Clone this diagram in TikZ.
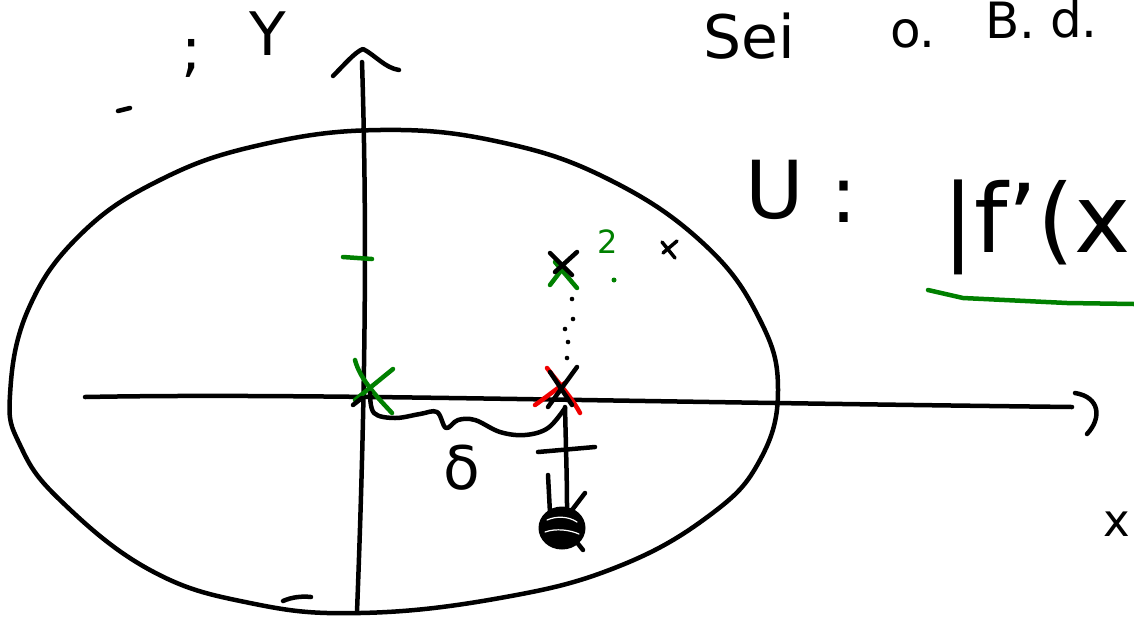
\documentclass[tikz,border=0pt]{standalone}
\usepackage{fontspec}
\setmainfont{DejaVu Sans}
\definecolor{pgreen}{RGB}{0,128,0}
\definecolor{pred}{RGB}{240,0,0}
\begin{document}
\begin{tikzpicture}[x=1pt,y=-1pt,line cap=round,line join=round,
  ink/.style={line width=4.5pt,black},
  gink/.style={line width=4.5pt,pgreen},
  rink/.style={line width=4.5pt,pred},
  hand/.style={inner sep=0pt,outer sep=0pt},
  fs/.style={font=\fontsize{#1}{#1}\selectfont}]
\useasboundingbox (0,0) rectangle (1134,619);
\clip (0,0) rectangle (1134,619);
% ellipse (region)
\draw[ink] plot[smooth cycle,tension=0.7] coordinates {
  (10,395) (28,310) (80,235) (160,180) (260,145) (380,130) (500,142) (610,180)
  (705,245) (760,320) (778,390) (760,460) (710,515) (617,567)
  (500,598) (360,613) (250,603) (150,570) (60,500) (20,445)};
% axes
\draw[ink] (85,397) .. controls (300,393) and (560,401) .. (1072,407);
\draw[ink] (1075,393) .. controls (1100,397) and (1102,418) .. (1087,434);
\draw[ink] (362,62) .. controls (368,250) and (364,430) .. (357,612);
\draw[ink] (333,76) .. controls (345,64) and (355,52) .. (363,49) .. controls (375,55) and (385,68) .. (399,70);
% axis labels and scraps
\node[hand,fs=60] (ylab) at (268,34) {Y};
\node[hand,fs=60] (semi) at (192,58) {;};
\draw[ink] (118,111) -- (130,108);
\draw[ink] (283,601) .. controls (292,597) and (302,596) .. (311,597);
\node[hand,fs=45] (xlab) at (1117,524) {x};
% title text
\node[hand,fs=60,anchor=base west] (sei) at (703,58) {Sei};
\node[hand,fs=50,anchor=base west] (o) at (890,47) {o.};
\node[hand,fs=50,anchor=base west] (B) at (985,38) {B.};
\node[hand,fs=50,anchor=base west] (d) at (1050,37) {d.};
\node[hand,fs=80,anchor=base west] (U) at (745,218) {U};
\node[hand,fs=80,anchor=base west] (colon) at (830,222) {:};
\node[hand,fs=95,anchor=base west] (fpx) at (942,252) {|f'(x};
\draw[gink] (928,290) -- (963,298) -- (1067,303) -- (1134,304);
% green tick on y axis
\draw[gink] (343,257) -- (372,259);
% origin cross
\draw[gink] (355,360) .. controls (360,380) and (380,400) .. (392,413);
\draw[gink] (355,400) -- (393,369);
\draw[ink] (353,405) -- (362,398);
% wavy brace delta
\draw[ink] plot[smooth,tension=0.6] coordinates {(370,393) (374,413) (395,418) (420,414)
  (437,412) (446,428) (458,420) (475,420) (500,432) (525,435) (548,428) (565,408)};
\node[hand,fs=60] (delta) at (462,468) {δ};
% red cross point
\draw[rink] (547,368) .. controls (560,385) and (572,398) .. (580,413);
\draw[rink] (535,405) .. controls (545,398) and (555,390) .. (565,383);
\draw[ink] (550,372) -- (572,405);
\draw[ink] (577,367) -- (548,407);
% dotted path up
\foreach \p in {(572,299),(573,319),(565,329),(568,342),(567,358)}
  \fill \p circle (2.3pt);
% upper cross
\draw[gink] (555,262) -- (577,288);
\draw[gink] (563,268) -- (550,285);
\draw[ink] (550,253) -- (572,275);
\draw[ink] (577,252) -- (555,272);
\node[hand,fs=32,text=pgreen] (two) at (608,242) {2};
\fill[pgreen] (614,280) circle (2.5pt);
\draw[line width=3.5pt] (662,242) -- (675,258);
\draw[line width=3.5pt] (677,241) -- (663,253);
% stick and ball
\draw[ink] (565,407) .. controls (566,450) and (567,480) .. (567,507);
\draw[ink] (538,452) -- (595,447);
\draw[ink] (548,475) -- (550,513);
\draw[ink] (585,493) -- (572,510);
\draw[ink] (575,540) -- (583,550);
\fill (562,528) ellipse (22pt and 20pt);
\draw[white,line width=1.2pt] (547,520) .. controls (556,516) and (568,516) .. (577,522);
\draw[white,line width=1.2pt] (545,532) .. controls (556,528) and (570,530) .. (579,534);
\draw[ink,line width=3pt] (562,528) ellipse (22pt and 20pt);
\end{tikzpicture}
\end{document}
